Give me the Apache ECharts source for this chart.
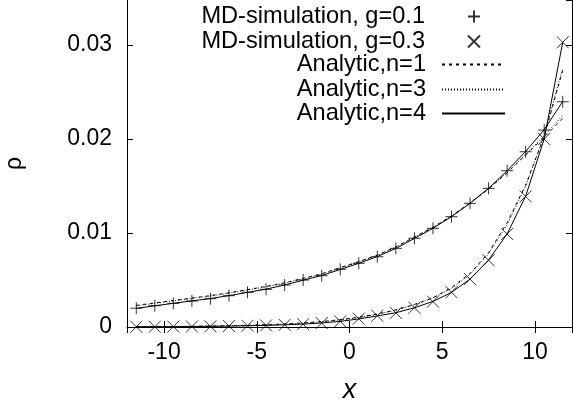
<!DOCTYPE html>
<html>
<head>
<meta charset="utf-8">
<script src="https://cdn.jsdelivr.net/npm/echarts@6/dist/echarts.min.js"></script>
<style>
  html, body { margin: 0; padding: 0; background: #fff; }
  #chart { width: 573px; height: 407px; }
</style>
</head>
<body>
<div id="chart"></div>
<script>
// positions x des points (simulation et courbes analytiques)
const xs = [-11.5, -10.5, -9.5, -8.5, -7.5, -6.5, -5.5, -4.5, -3.5, -2.5, -1.5, -0.5,
            0.5, 1.5, 2.5, 3.5, 4.5, 5.5, 6.5, 7.5, 8.5, 9.5, 10.5, 11.5];

// simulation MD
const md01 = [0.00200, 0.00227, 0.00252, 0.00277, 0.00301, 0.00333, 0.00369, 0.00401,
              0.00447, 0.00500, 0.00546, 0.00614, 0.00678, 0.00748, 0.00837, 0.00944,
              0.01050, 0.01174, 0.01316, 0.01475, 0.01663, 0.01865, 0.02096, 0.02397];
const md03 = [0.00002, 0.00003, 0.00004, 0.00005, 0.00007, 0.00010, 0.00013, 0.00017,
              0.00023, 0.00030, 0.00042, 0.00060, 0.00088, 0.00120, 0.00150, 0.00205,
              0.00270, 0.00370, 0.00510, 0.00710, 0.00990, 0.01390, 0.02000, 0.03030];

// courbes analytiques
const an1_01 = [0.00230, 0.00256, 0.00282, 0.00308, 0.00334, 0.00364, 0.00398, 0.00432,
                0.00470, 0.00518, 0.00566, 0.00632, 0.00696, 0.00766, 0.00852, 0.00958,
                0.01062, 0.01182, 0.01320, 0.01470, 0.01640, 0.01830, 0.02020, 0.02220];
const an1_03 = [0.00003, 0.00004, 0.00005, 0.00007, 0.00010, 0.00013, 0.00018, 0.00024,
                0.00032, 0.00043, 0.00058, 0.00078, 0.00104, 0.00138, 0.00182, 0.00240,
                0.00310, 0.00420, 0.00570, 0.00790, 0.01110, 0.01510, 0.02030, 0.02730];
const an3_01 = [0.00226, 0.00252, 0.00278, 0.00304, 0.00330, 0.00360, 0.00394, 0.00428,
                0.00466, 0.00514, 0.00562, 0.00628, 0.00692, 0.00762, 0.00850, 0.00955,
                0.01060, 0.01180, 0.01320, 0.01472, 0.01645, 0.01838, 0.02035, 0.02250];
const an3_03 = [0.00003, 0.00004, 0.00005, 0.00007, 0.00010, 0.00013, 0.00017, 0.00023,
                0.00031, 0.00042, 0.00056, 0.00076, 0.00101, 0.00135, 0.00179, 0.00237,
                0.00310, 0.00410, 0.00560, 0.00780, 0.01090, 0.01500, 0.02040, 0.02760];
const an4_01 = [0.00198, 0.00226, 0.00252, 0.00278, 0.00303, 0.00334, 0.00368, 0.00403,
                0.00447, 0.00498, 0.00548, 0.00612, 0.00678, 0.00750, 0.00836, 0.00942,
                0.01050, 0.01174, 0.01316, 0.01475, 0.01663, 0.01868, 0.02100, 0.02400];
const an4_03 = [0.00002, 0.00003, 0.00004, 0.00005, 0.00007, 0.00010, 0.00013, 0.00017,
                0.00023, 0.00031, 0.00043, 0.00060, 0.00086, 0.00118, 0.00152, 0.00205,
                0.00272, 0.00368, 0.00510, 0.00712, 0.00990, 0.01392, 0.02002, 0.03030];

const names = ['MD-simulation, g=0.1', 'MD-simulation, g=0.3',
               'Analytic,n=1', 'Analytic,n=3', 'Analytic,n=4'];

const pairs = ys => xs.map((x, i) => [x, ys[i]]);

const font = 'Liberation Sans, Helvetica, Arial, sans-serif';
const plusPath = 'path://M6,0L6,12M0,6L12,6';
const crossPath = 'path://M0,0L12,12M0,12L12,0';

const chart = echarts.init(document.getElementById('chart'), null, { renderer: 'canvas' });

function lineSerie(name, ys, dash) {
    return {
        name: name,
        type: 'line',
        data: pairs(ys),
        symbol: 'none',
        showSymbol: false,
        animation: false,
        lineStyle: { color: '#000', width: 1, type: dash },
        itemStyle: { color: '#000' },
        z: 2
    };
}

function markSerie(name, ys, path) {
    return {
        name: name,
        type: 'scatter',
        data: pairs(ys),
        symbol: path,
        symbolSize: 12,
        animation: false,
        itemStyle: { color: 'transparent', borderColor: '#000', borderWidth: 1 },
        z: 3
    };
}

// une légende par ligne pour aligner texte à droite et symboles
const rowCenters = [15, 40, 63, 88, 112];
const legends = names.map((n, i) => {
    const isMark = i < 2;
    return {
        data: [n],
        top: rowCenters[i] - 10.5,
        right: isMark ? 92 : 67,
        orient: 'vertical',
        align: 'right',
        padding: 0,
        itemWidth: isMark ? 12 : 63,
        itemHeight: 12,
        selectedMode: false,
        itemStyle: isMark ? {} : { opacity: 0 },
        textStyle: { fontFamily: font, fontSize: 23.6, color: '#000', lineHeight: 12,
                     padding: [0, isMark ? 38 : 11, 0, 0] }
    };
});

const axisCommon = {
    type: 'value',
    axisLine: { show: true, onZero: false, lineStyle: { color: '#000', width: 1 } },
    axisTick: { show: true, inside: true, length: 6, lineStyle: { color: '#000', width: 1 } },
    splitLine: { show: false }
};

const option = {
    animation: false,
    backgroundColor: '#fff',
    grid: { left: 127, right: 1, top: 0, bottom: 80, containLabel: false, outerBoundsMode: 'none' },
    legend: legends,
    xAxis: [
        Object.assign({}, axisCommon, {
            position: 'bottom', min: -12, max: 12, splitNumber: 5,
            name: 'x', nameLocation: 'middle', nameGap: 50,
            nameTextStyle: { fontFamily: font, fontSize: 27, fontStyle: 'italic', color: '#000' },
            axisLabel: { fontFamily: font, fontSize: 23, color: '#000', margin: 14,
                         showMinLabel: false, showMaxLabel: false }
        }),
        Object.assign({}, axisCommon, {
            position: 'top', min: -12, max: 12, splitNumber: 5,
            axisLine: { show: false },
            axisLabel: { show: false }
        })
    ],
    yAxis: [
        Object.assign({}, axisCommon, {
            position: 'left', min: 0, max: 0.0348, interval: 0.01,
            name: 'ρ', nameLocation: 'middle', nameGap: 101,
            nameTextStyle: { fontFamily: font, fontSize: 23, color: '#000' },
            axisLabel: { fontFamily: font, fontSize: 23, color: '#000', margin: 15,
                         showMaxLabel: false }
        }),
        Object.assign({}, axisCommon, {
            position: 'right', min: 0, max: 0.0348, interval: 0.01,
            axisLabel: { show: false }
        })
    ],
    series: [
        markSerie(names[0], md01, plusPath),
        markSerie(names[1], md03, crossPath),
        lineSerie(names[2], an1_01, [3, 4]),
        lineSerie(names[2], an1_03, [3, 4]),
        lineSerie(names[3], an3_01, [1, 2]),
        lineSerie(names[3], an3_03, [1, 2]),
        lineSerie(names[4], an4_01, 'solid'),
        lineSerie(names[4], an4_03, 'solid')
    ]
};

chart.setOption(option);
window.addEventListener('resize', chart.resize);
</script>
</body>
</html>
